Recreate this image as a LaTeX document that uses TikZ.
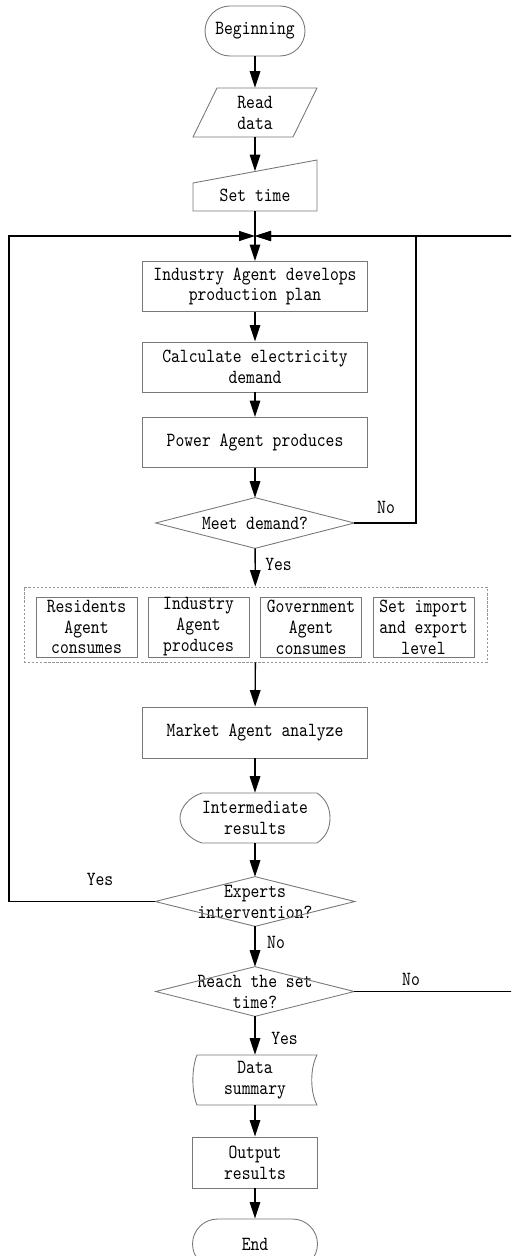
\documentclass[tikz,border=0pt]{standalone}
\usepackage{fontspec}
\usetikzlibrary{arrows.meta}

\newfontfamily\flowtt[FakeStretch=0.84]{lmmono10-regular.otf}
\definecolor{linegray}{RGB}{120,120,120}
\definecolor{dashgray}{RGB}{150,150,150}
\newcommand{\flowfont}{\flowtt\fontsize{11.4}{11.9}\selectfont}

\tikzset{
	base/.style={font=\flowfont, align=center, inner sep=0pt},
	outline/.style={draw=linegray, line width=0.5pt},
	proc/.style={base, outline, minimum width=4.5cm, minimum height=1cm},
	smallproc/.style={base, outline, minimum width=2.02cm, minimum height=1.2cm},
	term/.style={base, outline, rounded corners=0.5cm, minimum width=2cm, minimum height=1cm},
	conn/.style={line width=0.8pt},
	arr/.style={conn, -{Triangle[length=0.33cm, width=0.21cm]}},
	harr/.style={conn, -{Triangle[length=0.32cm, width=0.2cm]}},
	lbl/.style={font=\flowfont, inner sep=0pt}
}

\begin{document}
\begin{tikzpicture}[x=0.02cm, y=-0.02cm]
	\useasboundingbox (0,0) rectangle (511,1256);
	\clip (0,0) rectangle (511,1256);

	% main column
	\node[term] (begin) at (255,31) {Beginning};

	\node[base, minimum width=2.48cm, minimum height=0.98cm] (read) at (255,112.5) {Read\\data};
	\draw[outline] (217,88) -- (317,88) -- (293,137) -- (193,137) -- cycle;

	\node[base, minimum width=2.48cm, minimum height=0.79cm, text height=0.42cm, text depth=0pt] (settime) at (255,191.25) {Set time};
	\draw[outline] (193,183) -- (317,160) -- (317,211) -- (193,211) -- cycle;

	\coordinate (join) at (255,236);
	\coordinate (ltop) at (9,236);
	\coordinate (rtop) at (416,236);
	\coordinate (edge) at (540,236);

	\node[proc] (plan) at (255,286.5) {Industry Agent develops\\production plan};
	\node[proc] (demand) at (255,367) {Calculate electricity\\demand};
	\node[proc] (power) at (255,442.5) {Power Agent produces};

	\node[base, minimum width=3.96cm, minimum height=1cm] (meet) at (255,523) {Meet demand?};
	\draw[outline] (meet.north) -- (meet.east) -- (meet.south) -- (meet.west) -- cycle;

	% agents acting in parallel
	\node[base, draw=dashgray, line width=0.5pt, dash pattern=on 1.3pt off 1pt, minimum width=9.26cm, minimum height=1.5cm] (group) at (255.5,624.5) {};
	\node[smallproc] (resid) at (86.5,627) {Residents\\Agent\\consumes};
	\node[smallproc] (indus) at (198.5,627) {Industry\\Agent\\produces};
	\node[smallproc] (gov) at (311,627) {Government\\Agent\\consumes};
	\node[smallproc] (trade) at (423.5,627) {Set import\\and export\\level};

	\node[proc, minimum height=1.02cm] (market) at (255,732.5) {Market Agent analyze};

	\node[base, minimum width=3cm, minimum height=1cm] (inter) at (255,818) {Intermediate\\results};
	\draw[outline] (202,793) -- (317,793) .. controls (326,799) and (330,808) .. (330,818)
		.. controls (330,828) and (326,837) .. (317,843) -- (202,843)
		.. controls (189,839) and (180,828) .. (180,818)
		.. controls (180,808) and (189,797) .. (202,793) -- cycle;

	\node[base, minimum width=3.98cm, minimum height=0.98cm] (experts) at (255,901.5) {Experts\\intervention?};
	\draw[outline] (experts.north) -- (experts.east) -- (experts.south) -- (experts.west) -- cycle;

	\node[base, minimum width=3.96cm, minimum height=0.98cm] (reach) at (255,991.5) {Reach the set\\time?};
	\draw[outline] (reach.north) -- (reach.east) -- (reach.south) -- (reach.west) -- cycle;

	\node[base, minimum width=2.48cm, minimum height=1cm] (summary) at (255,1080) {Data\\summary};
	\draw[outline] (197,1055) -- (317,1055) .. controls (310,1068) and (310,1092) .. (317,1105)
		-- (197,1105) .. controls (191.5,1092) and (191.5,1068) .. (197,1055) -- cycle;

	\node[proc, minimum width=2.5cm, minimum height=1.02cm] (output) at (255,1162.5) {Output\\results};
	\node[term, minimum width=2.5cm] (end) at (255,1244) {End};

	% connectors
	\draw[arr] (begin) -- (read);
	\draw[arr] (read) -- (settime);
	\draw[conn] (settime) -- (join);
	\draw[arr] (join) -- (plan);
	\draw[arr] (plan) -- (demand);
	\draw[arr] (demand) -- (power);
	\draw[arr] (power) -- (meet);
	\draw[arr] (meet) -- (group);
	\draw[arr] (group) -- (market);
	\draw[arr] (market) -- (inter);
	\draw[arr] (inter) -- (experts);
	\draw[arr] (experts) -- (reach);
	\draw[arr] (reach) -- (summary);
	\draw[arr] (summary) -- (output);
	\draw[arr] (output) -- (end);

	% loops back to the top
	\draw[harr] (meet.east) -| (rtop) -- (join);
	\draw[harr] (reach.east) -| (edge) -- (join);
	\draw[harr] (experts.west) -| (ltop) -- (join);

	\node[lbl] (nomeet) at (386,507) {No};
	\node[lbl] (yesmeet) at (278.5,564) {Yes};
	\node[lbl] (yesexp) at (100,879) {Yes};
	\node[lbl] (noexp) at (276,942) {No};
	\node[lbl] (noreach) at (411,979) {No};
	\node[lbl] (yesreach) at (284.5,1038) {Yes};
\end{tikzpicture}
\end{document}
